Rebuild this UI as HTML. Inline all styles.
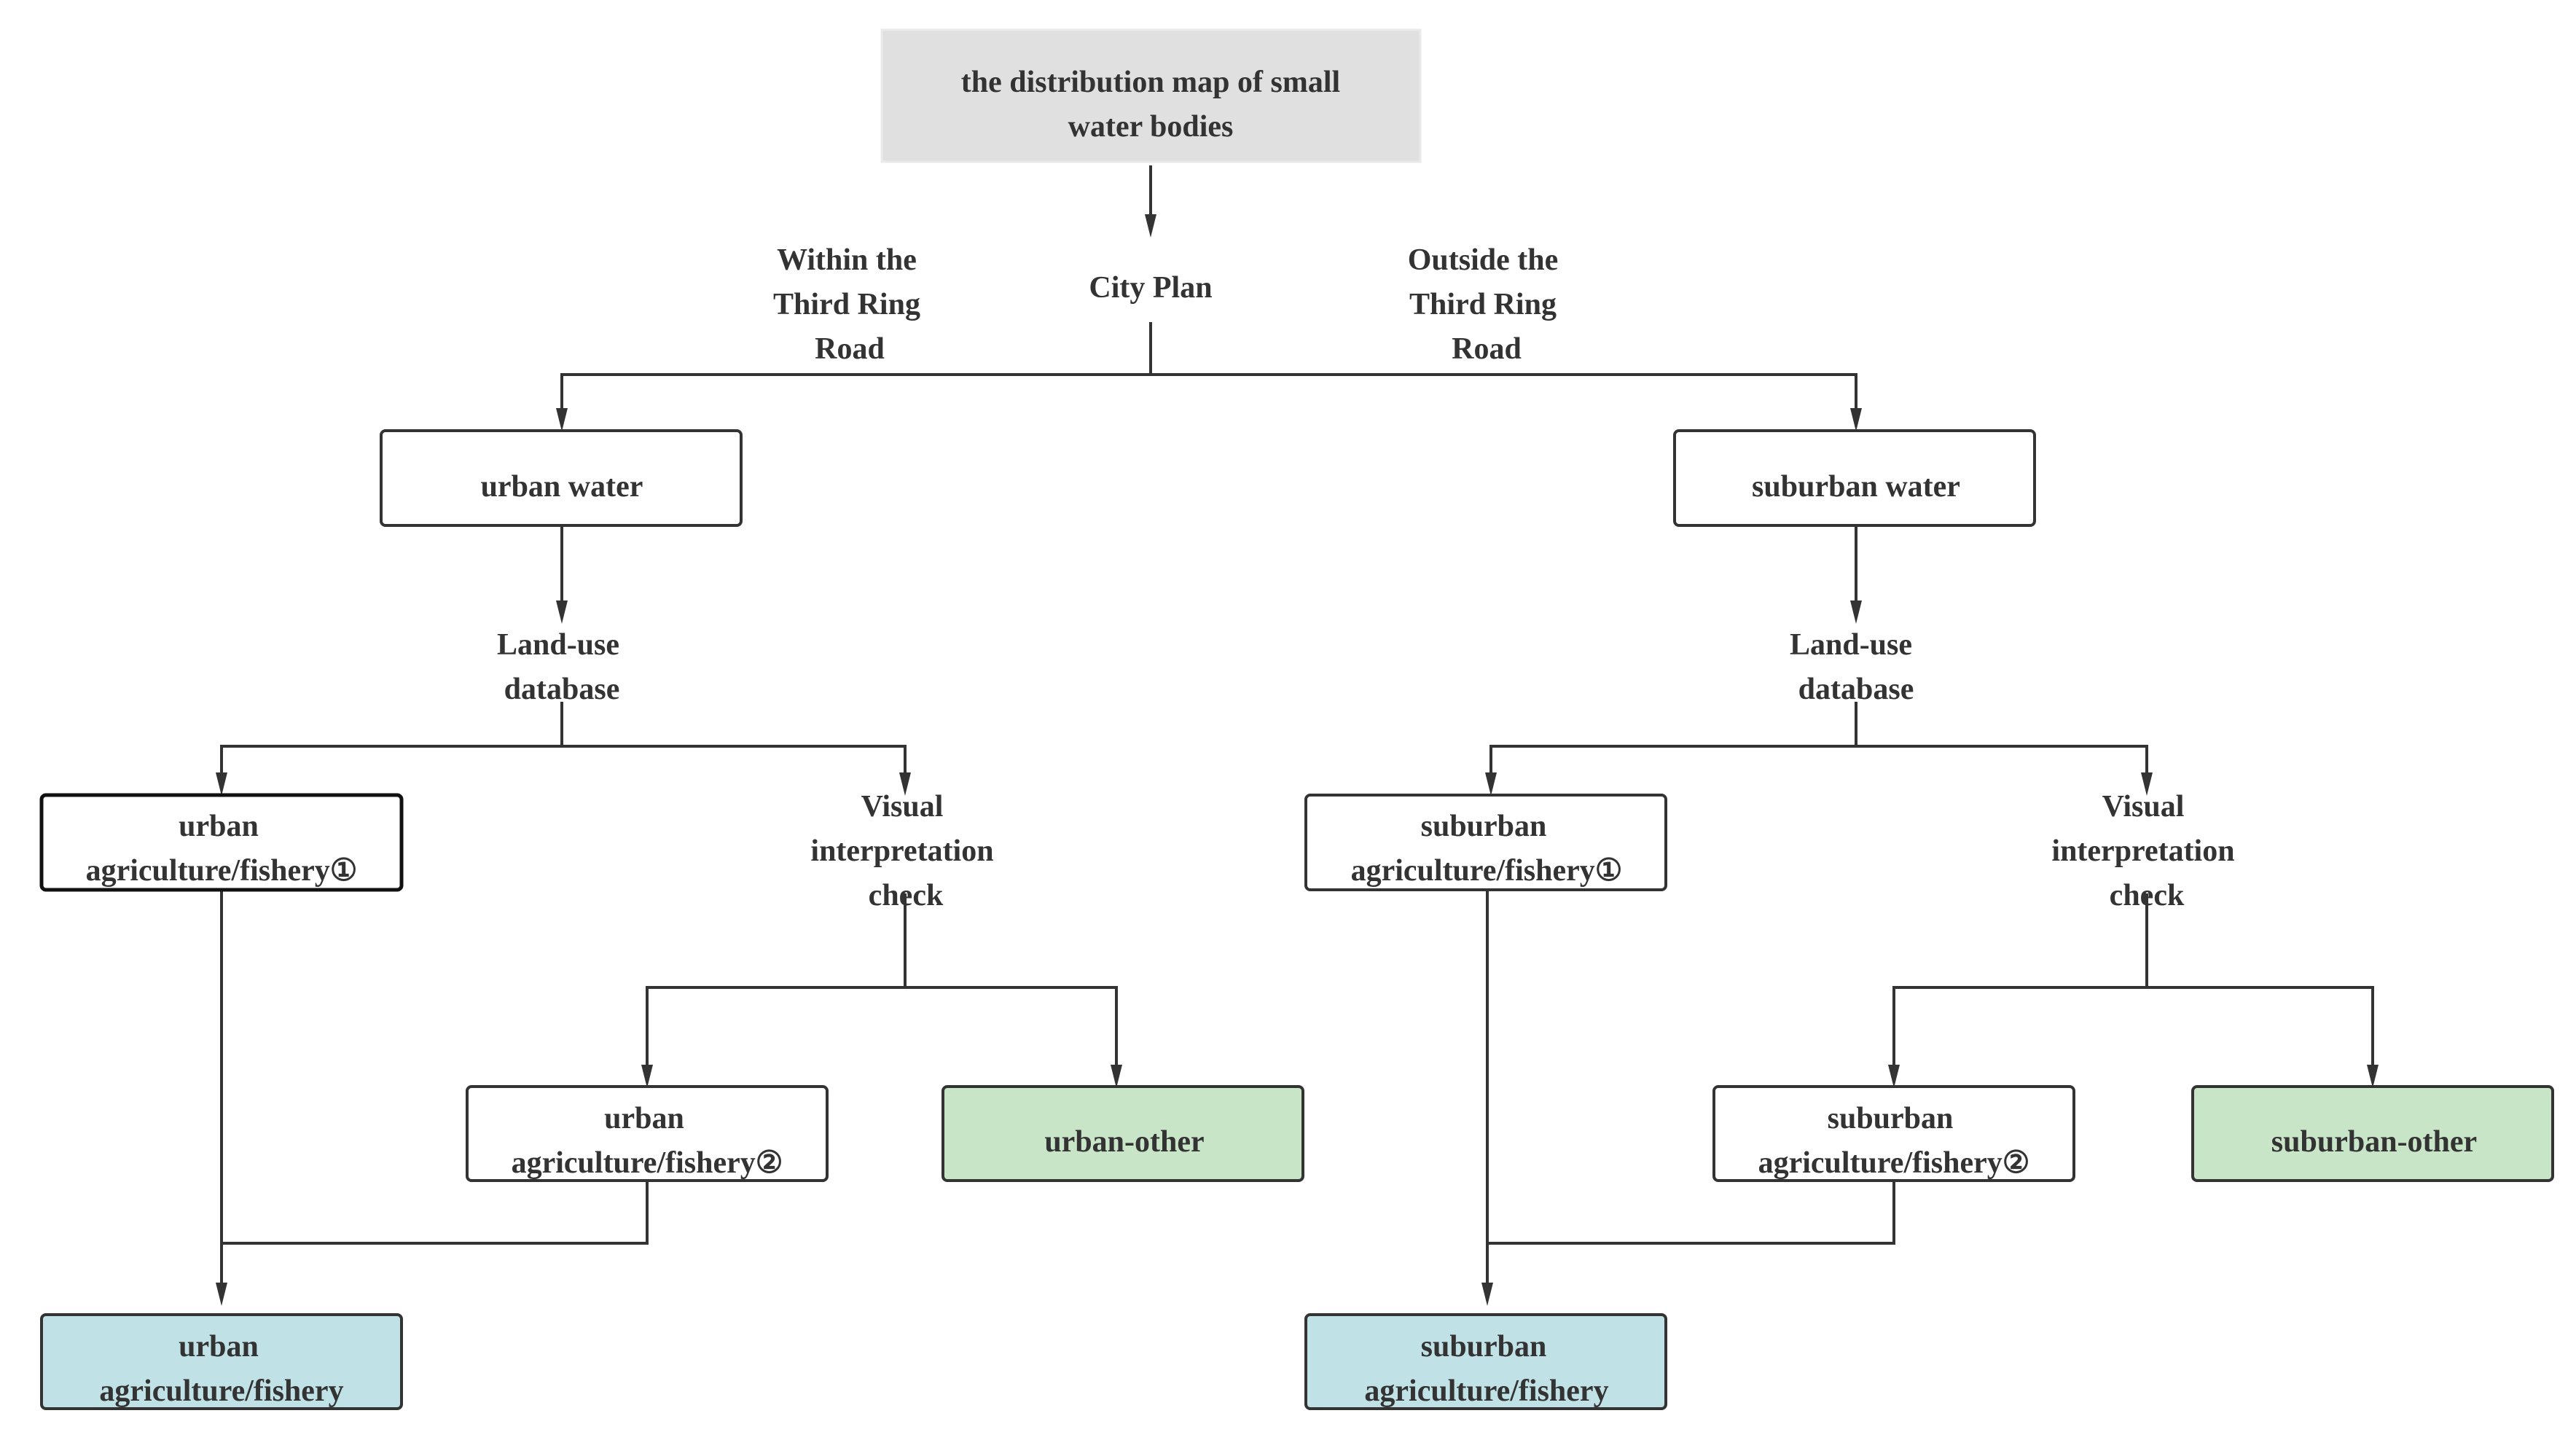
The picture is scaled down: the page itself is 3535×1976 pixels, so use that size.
<!DOCTYPE html>
<html><head><meta charset="utf-8"><style>
html,body{margin:0;padding:0;background:#fff;}
svg text{font-family:"Liberation Serif","Times New Roman",Times,"DejaVu Serif",serif;font-weight:bold;font-size:42px;fill:#333;text-anchor:middle;}
</style></head><body>
<svg width="3535" height="1971" viewBox="0 0 3535 1971" xmlns="http://www.w3.org/2000/svg" font-family="Liberation Serif, Times New Roman, serif">
<g stroke="#333" stroke-width="4" fill="none">
<line x1="1579" y1="227" x2="1579" y2="300"/>
<polyline points="1579,442 1579,514"/>
<polyline points="771,566 771,514 2547,514 2547,566"/>
<line x1="771" y1="721" x2="771" y2="830"/>
<line x1="771" y1="963" x2="771" y2="1024"/>
<polyline points="304,1066 304,1024 1242,1024 1242,1066"/>
<line x1="1242" y1="1226" x2="1242" y2="1355"/>
<polyline points="888,1467 888,1355 1532,1355 1532,1467"/>
<line x1="304" y1="1221" x2="304" y2="1766"/>
<polyline points="888,1620 888,1706 304,1706"/>
<line x1="2547" y1="721" x2="2547" y2="830"/>
<line x1="2547" y1="963" x2="2547" y2="1024"/>
<polyline points="2046,1066 2046,1024 2946,1024 2946,1066"/>
<line x1="2946" y1="1226" x2="2946" y2="1355"/>
<polyline points="2599,1467 2599,1355 3256,1355 3256,1467"/>
<line x1="2041" y1="1221" x2="2041" y2="1766"/>
<polyline points="2599,1620 2599,1706 2041,1706"/>
</g>
<g fill="#333">
<polygon points="1571,294 1587,294 1579,326"/>
<polygon points="763,560 779,560 771,592"/>
<polygon points="2539,560 2555,560 2547,592"/>
<polygon points="763,824 779,824 771,856"/>
<polygon points="2539,824 2555,824 2547,856"/>
<polygon points="296,1060 312,1060 304,1092"/>
<polygon points="1234,1060 1250,1060 1242,1092"/>
<polygon points="2038,1060 2054,1060 2046,1092"/>
<polygon points="2938,1060 2954,1060 2946,1092"/>
<polygon points="880,1461 896,1461 888,1493"/>
<polygon points="1524,1461 1540,1461 1532,1493"/>
<polygon points="2591,1461 2607,1461 2599,1493"/>
<polygon points="3248,1461 3264,1461 3256,1493"/>
<polygon points="296,1760 312,1760 304,1792"/>
<polygon points="2033,1760 2049,1760 2041,1792"/>
</g>
<rect x="1210" y="41" width="739" height="181" fill="#e0e0e0" stroke="#eaeaea" stroke-width="3"/>
<g stroke="#333" stroke-width="4">
<rect x="523" y="591" width="494" height="130" rx="6" fill="#fff"/>
<rect x="2298" y="591" width="494" height="130" rx="6" fill="#fff"/>
<rect x="57" y="1091" width="494" height="130" rx="6" fill="#fff" stroke="#111" stroke-width="5"/>
<rect x="1792" y="1091" width="494" height="130" rx="6" fill="#fff"/>
<rect x="641" y="1491" width="494" height="129" rx="6" fill="#fff"/>
<rect x="2352" y="1491" width="494" height="129" rx="6" fill="#fff"/>
<rect x="1294" y="1491" width="494" height="129" rx="6" fill="#c9e5c8"/>
<rect x="3009" y="1491" width="494" height="129" rx="6" fill="#c9e5c8"/>
<rect x="57" y="1804" width="494" height="129" rx="6" fill="#c0e1e6"/>
<rect x="1792" y="1804" width="494" height="129" rx="6" fill="#c0e1e6"/>
</g>
<text x="1579" y="126">the distribution map of small</text>
<text x="1579" y="187">water bodies</text>
<text x="1579" y="408">City Plan</text>
<text x="1162" y="370">Within the</text>
<text x="1162" y="431">Third Ring</text>
<text x="1166" y="492">Road</text>
<text x="2035" y="370">Outside the</text>
<text x="2035" y="431">Third Ring</text>
<text x="2040" y="492">Road</text>
<text x="771" y="681">urban water</text>
<text x="2547" y="681">suburban water</text>
<text x="766" y="898">Land-use</text>
<text x="771" y="959">database</text>
<text x="2540" y="898">Land-use</text>
<text x="2547" y="959">database</text>
<text x="300" y="1147">urban</text>
<text x="304" y="1208">agriculture/fishery①</text>
<text x="2036" y="1147">suburban</text>
<text x="2040" y="1208">agriculture/fishery①</text>
<text x="1238" y="1120">Visual</text>
<text x="1238" y="1181">interpretation</text>
<text x="1243" y="1242">check</text>
<text x="2941" y="1120">Visual</text>
<text x="2941" y="1181">interpretation</text>
<text x="2946" y="1242">check</text>
<text x="884" y="1548">urban</text>
<text x="888" y="1609">agriculture/fishery②</text>
<text x="2594" y="1548">suburban</text>
<text x="2599" y="1609">agriculture/fishery②</text>
<text x="1543" y="1580">urban-other</text>
<text x="3258" y="1580">suburban-other</text>
<text x="300" y="1861">urban</text>
<text x="304" y="1922">agriculture/fishery</text>
<text x="2036" y="1861">suburban</text>
<text x="2040" y="1922">agriculture/fishery</text>
</svg>
</body></html>
